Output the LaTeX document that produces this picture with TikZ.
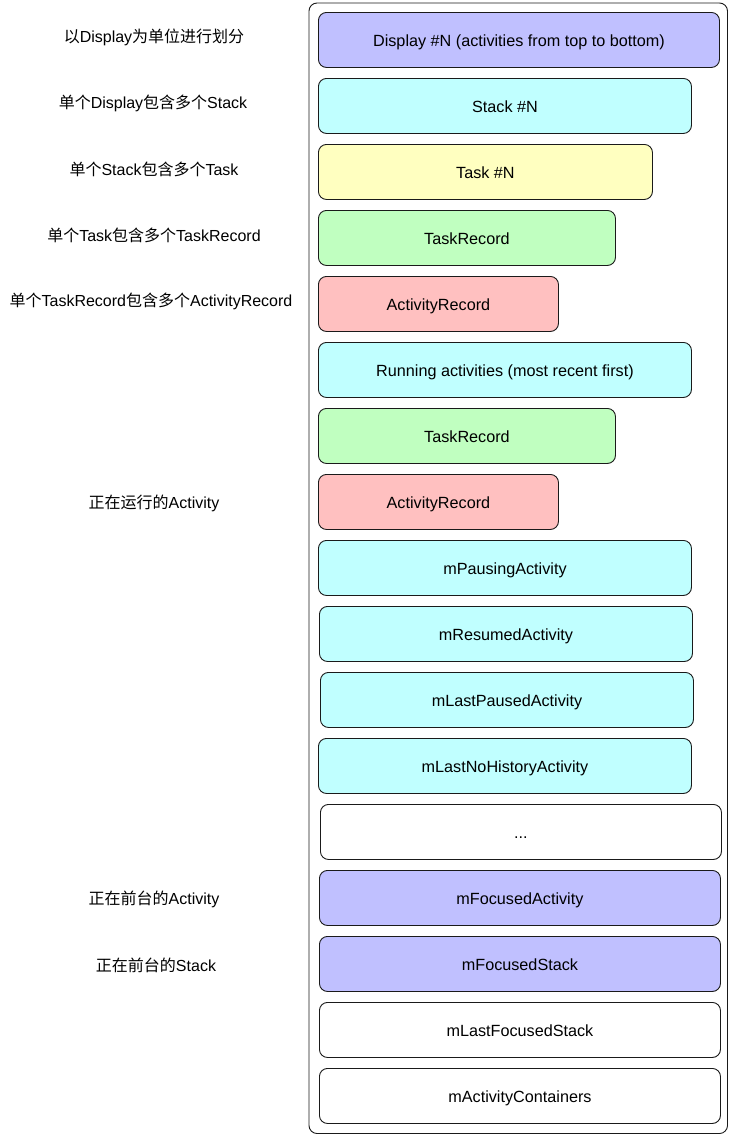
\documentclass[tikz,border=0pt]{standalone}
\usepackage{fontspec}
\setmainfont{Liberation Sans}
\newfontfamily\cjk{Noto Sans CJK SC}
\usepackage{tikz}
\usepackage{xcolor}
\usetikzlibrary{positioning}
\definecolor{ink}{HTML}{1A1A1A}
\definecolor{lilac}{HTML}{C0C0FF}
\definecolor{aqua}{HTML}{C0FFFF}
\definecolor{cream}{HTML}{FFFFC0}
\definecolor{mint}{HTML}{C0FFC0}
\definecolor{rose}{HTML}{FFC0C0}
\newcommand{\zh}[1]{{\cjk #1}}
\tikzset{
  panel/.style={draw=ink,fill=white,line width=0.9pt,rounded corners=8pt},
  cell/.style={draw=ink,line width=0.9pt,rounded corners=8pt,anchor=north west,
               minimum height=55pt,inner sep=0pt,text height=15pt,text depth=1.5pt,
               font=\fontsize{16.2}{19}\selectfont},
  note/.style={inner sep=0pt,font=\fontsize{16}{19}\selectfont}
}
\begin{document}
\begin{tikzpicture}[x=1pt,y=-1pt]
    \path[use as bounding box] (0,0) rectangle (729,1135);

    \draw[panel] (309,3) rectangle (727.5,1133.5);

    % hierarchy
    \node[cell,fill=lilac,minimum width=401pt] (disp) at (318,12)
      {Display \#N (activities from top to bottom)};
    \node[cell,fill=aqua,minimum width=373pt] (stk) at (318,78) {Stack \#N};
    \node[cell,fill=cream,minimum width=334pt] (tsk) at (318,144) {Task \#N};
    \node[cell,fill=mint,minimum width=297pt] (trec) at (318,210) {TaskRecord};
    \node[cell,fill=rose,minimum width=240pt] (arec) at (318,276)
      {ActivityRecord};

    % running activities
    \node[cell,fill=aqua,minimum width=373pt] (run) at (318,342)
      {Running activities (most recent first)};
    \node[cell,fill=mint,minimum width=297pt] (rtrec) at (318,408) {TaskRecord};
    \node[cell,fill=rose,minimum width=240pt] (rarec) at (318,474)
      {ActivityRecord};

    % fields
    \node[cell,fill=aqua,minimum width=373pt] (paus) at (318,540)
      {mPausingActivity};
    \node[cell,fill=aqua,minimum width=373pt] (resm) at (319,606)
      {mResumedActivity};
    \node[cell,fill=aqua,minimum width=373pt] (lpaus) at (320,672)
      {mLastPausedActivity};
    \node[cell,fill=aqua,minimum width=373pt] (lnoh) at (318,738)
      {mLastNoHistoryActivity};
    \node[cell,fill=white,minimum width=401pt] (dots) at (320,804) {...};
    \node[cell,fill=lilac,minimum width=401pt] (facti) at (319,870)
      {mFocusedActivity};
    \node[cell,fill=lilac,minimum width=401pt] (fstk) at (319,936)
      {mFocusedStack};
    \node[cell,fill=white,minimum width=401pt] (lfstk) at (319,1002)
      {mLastFocusedStack};
    \node[cell,fill=white,minimum width=401pt] (cont) at (319,1068)
      {mActivityContainers};

    % notes on the left
    \node[note] (ndisp) at (154,37) {\zh{以}Display\zh{为单位进行划分}};
    \node[note] (nstk) at (153,103) {\zh{单个}Display\zh{包含多个}Stack};
    \node[note] (ntsk) at (154,169) {\zh{单个}Stack\zh{包含多个}Task};
    \node[note] (ntrec) at (154,235) {\zh{单个}Task\zh{包含多个}TaskRecord};
    \node[note] (narec) at (151,301)
      {\zh{单个}TaskRecord\zh{包含多个}ActivityRecord};
    \node[note] (nrun) at (154,503) {\zh{正在运行的}Activity};
    \node[note] (nfact) at (154,899) {\zh{正在前台的}Activity};
    \node[note] (nfstk) at (156,965) {\zh{正在前台的}Stack};
  \end{tikzpicture}
\end{document}
